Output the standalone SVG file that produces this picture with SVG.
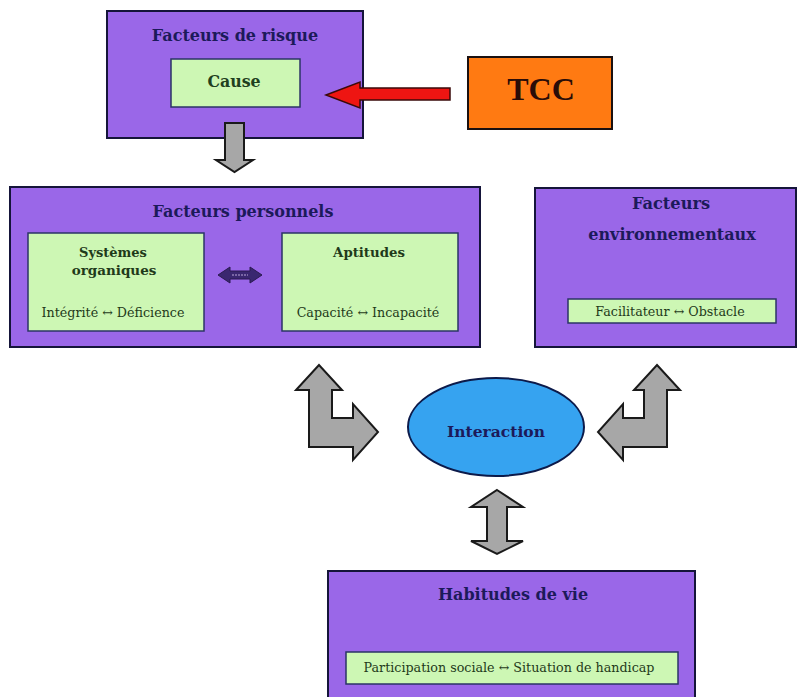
<svg xmlns="http://www.w3.org/2000/svg" width="797" height="697" viewBox="0 0 797 697">
<style>
.box{fill:#9a67e8;stroke:#15153a;stroke-width:2}
.inner{fill:#cdf7b4;stroke:#2b3566;stroke-width:1.5}
.t{font-family:"DejaVu Serif","Liberation Serif",serif;font-weight:bold;fill:#1c1a5a;text-anchor:middle}
.s{font-family:"DejaVu Serif","Liberation Serif",serif;fill:#1f3a1a;text-anchor:middle;font-size:12.7px}
.g{fill:#a7a7a7;stroke:#1a1a1a;stroke-width:2;stroke-linejoin:miter}
</style>
<rect width="797" height="697" fill="#ffffff"/>
<g id="facteurs-risque">
<rect class="box" x="107" y="11" width="256" height="127"/>
<text class="t" x="235" y="41" font-size="16">Facteurs de risque</text>
<rect class="inner" x="171" y="59" width="129" height="48"/>
<text class="t" x="234" y="87" font-size="15.8" style="fill:#1f4020">Cause</text>
</g>
<g id="tcc">
<rect x="468" y="57" width="144" height="72" fill="#ff7a12" stroke="#1a1010" stroke-width="2"/>
<text x="541" y="100" font-family="Liberation Serif,serif" font-weight="bold" font-size="32" fill="#2a0c08" text-anchor="middle">TCC</text>
</g>
<g id="facteurs-personnels">
<rect class="box" x="10" y="187" width="470" height="160"/>
<text class="t" x="243" y="217" font-size="16">Facteurs personnels</text>
<rect class="inner" x="28" y="233" width="176" height="98"/>
<text class="t" x="113" y="257" font-size="13" style="fill:#1f3a1a">Systèmes</text>
<text class="t" x="114" y="275" font-size="13.5" style="fill:#1f3a1a">organiques</text>
<text class="s" x="113" y="317">Intégrité ↔ Déficience</text>
<rect class="inner" x="282" y="233" width="176" height="98"/>
<text class="t" x="369" y="257" font-size="13.3" style="fill:#1f3a1a">Aptitudes</text>
<text class="s" x="368" y="317">Capacité ↔ Incapacité</text>
</g>
<g id="facteurs-environnementaux">
<rect class="box" x="535" y="188" width="261" height="159"/>
<text class="t" x="671" y="209" font-size="16.2">Facteurs</text>
<text class="t" x="672" y="240" font-size="16">environnementaux</text>
<rect class="inner" x="568" y="299" width="208" height="24"/>
<text class="s" x="670" y="316">Facilitateur ↔ Obstacle</text>
</g>
<g id="interaction">
<ellipse cx="496" cy="427" rx="88" ry="49" fill="#36a3f0" stroke="#0c1a4a" stroke-width="2"/>
<text class="t" x="496" y="437" font-size="15.5">Interaction</text>
</g>
<g id="habitudes-de-vie">
<rect class="box" x="328" y="571" width="367" height="130"/>
<text class="t" x="513" y="600" font-size="16">Habitudes de vie</text>
<rect class="inner" x="346" y="652" width="332" height="32"/>
<text class="s" x="509" y="672">Participation sociale ↔ Situation de handicap</text>
</g>
<g id="connectors">
<polygon points="326,95 360,82 360,88 450,88 450,100 360,100 360,108" fill="#ee1512" stroke="#3a0a0a" stroke-width="1.5"/>
<polygon class="g" points="225,123 244,123 244,160 253,160 234.5,172 216,160 225,160"/>
<polygon points="218,275 230,267 230,271 250,271 250,267 262,275 250,283 250,279 230,279 230,283" fill="#3a2770" stroke="#2a1a50" stroke-width="1"/>
<line x1="232" y1="275" x2="248" y2="275" stroke="#b9a6d8" stroke-width="1" stroke-dasharray="2,1"/>
<polygon class="g" points="319,365 296,390 309,390 309,447 353,447 353,460 378,432 353,404 353,418 332,418 332,390 342,390"/>
<polygon class="g" points="657,365 680,390 667,390 667,447 623,447 623,460 598,432 623,404 623,418 644,418 644,390 634,390"/>
<polygon class="g" points="497,490 523,507 507,507 507,541 523,541 497,554 471,541 487,541 487,507 471,507"/>
</g>
</svg>
